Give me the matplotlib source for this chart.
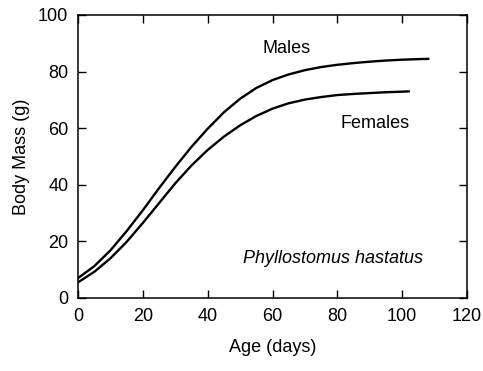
import matplotlib
matplotlib.use("Agg")
import matplotlib.pyplot as plt

plt.rcParams['font.family'] = ['Liberation Sans', 'DejaVu Sans']

# growth curves, body mass (g) vs age (days)
age_m = [0, 5, 10, 15, 20, 25, 30, 35, 40, 45, 50, 55, 60, 65, 70, 75, 80, 85, 90, 95, 100, 105, 108]
mass_m = [7.0, 11.2, 16.8, 23.6, 31.0, 38.8, 46.3, 53.4, 59.8, 65.6, 70.4, 74.2, 77.0, 79.0,
          80.5, 81.6, 82.4, 83.0, 83.5, 83.9, 84.2, 84.4, 84.5]

age_f = [0, 5, 10, 15, 20, 25, 30, 35, 40, 45, 50, 55, 60, 65, 70, 75, 80, 85, 90, 95, 100, 102]
mass_f = [5.5, 9.2, 14.0, 19.8, 26.5, 33.5, 40.5, 46.8, 52.3, 57.0, 61.0, 64.3, 66.9, 68.8,
          70.1, 71.0, 71.7, 72.1, 72.4, 72.7, 72.9, 73.0]

xticks = [0, 20, 40, 60, 80, 100, 120]
yticks = [0, 20, 40, 60, 80, 100]

fig = plt.figure(figsize=(4.83, 3.71), dpi=100)
ax = fig.add_axes([0.1615, 0.197, 0.8055, 0.7626])

ax.plot(age_m, mass_m, color='black', lw=1.7, solid_joinstyle='round')
ax.plot(age_f, mass_f, color='black', lw=1.7, solid_joinstyle='round')

fs = 13
ax.text(64.2, 88, "Males", ha='center', va='center', fontsize=fs)
ax.text(91.7, 61.8, "Females", ha='center', va='center', fontsize=fs)
ax.text(78.6, 13.8, "Phyllostomus hastatus", ha='center', va='center',
        fontsize=fs, style='italic')

ax.set_xlim(0, 120)
ax.set_ylim(0, 100)
ax.set_xticks(xticks)
ax.set_yticks(yticks)
ax.tick_params(direction='in', length=6, width=1, top=True, right=True,
               labelsize=fs, pad=7)
for s in ax.spines.values():
    s.set_linewidth(1.1)

ax.set_xlabel("Age (days)", fontsize=fs, labelpad=10)
ax.set_ylabel("Body Mass (g)", fontsize=fs, labelpad=6)

fig.savefig("out.png", dpi=100)
